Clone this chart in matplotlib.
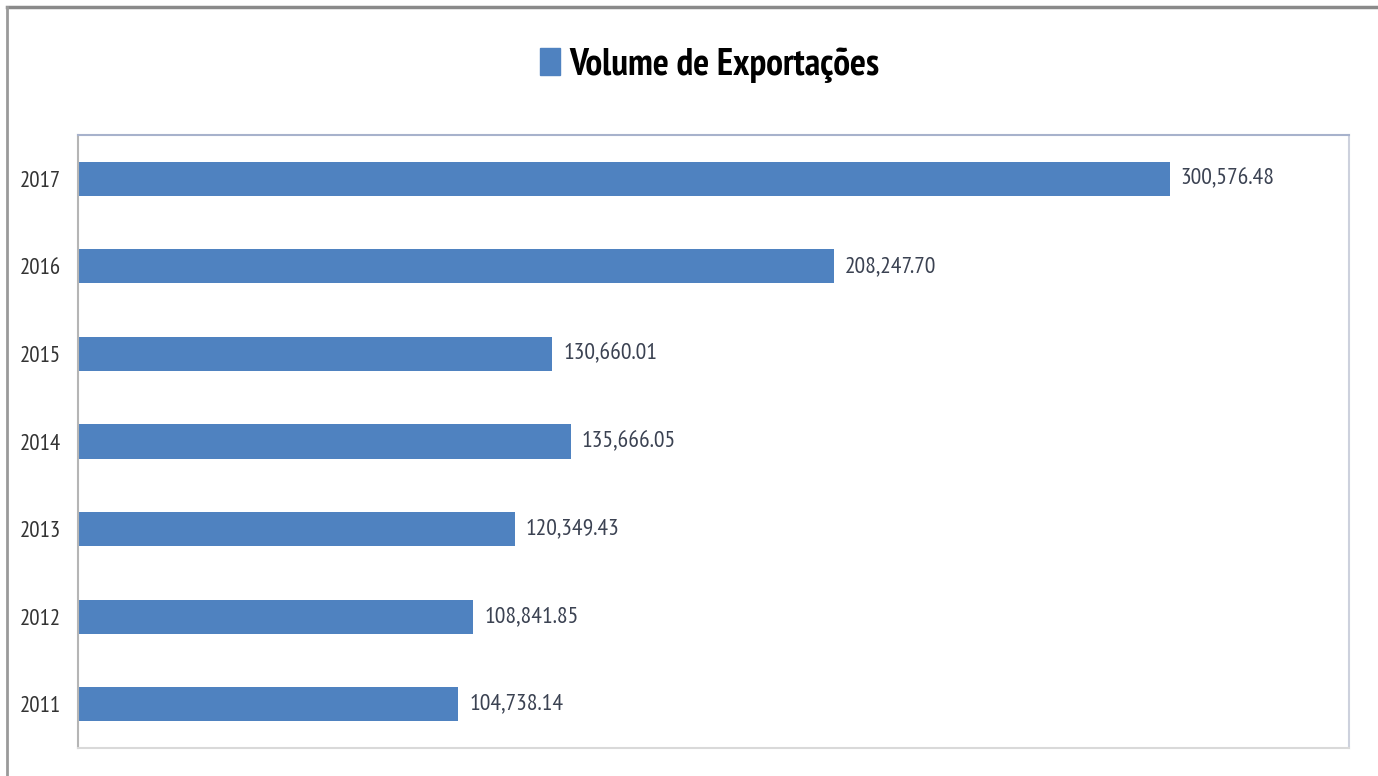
import matplotlib
matplotlib.use("Agg")
import matplotlib.pyplot as plt
from matplotlib.patches import Patch
from matplotlib.lines import Line2D

plt.rcParams['font.family'] = ['PT Sans Narrow', 'DejaVu Sans']

years = ['2011', '2012', '2013', '2014', '2015', '2016', '2017']
volume = [104738.14, 108841.85, 120349.43, 135666.05, 130660.01, 208247.70, 300576.48]
series_name = 'Volume de Exportações'

bar_color = '#4f82c0'

fig = plt.figure(figsize=(13.78, 7.76), dpi=100)
ax = fig.add_axes([78 / 1378, 1 - 748 / 776, (1349 - 78) / 1378, (748 - 135) / 776])

ax.barh(range(len(years)), volume, height=0.39, color=bar_color)
ax.set_xlim(0, 350000)
ax.set_ylim(-0.5, len(years) - 0.5)
ax.set_yticks(range(len(years)))
ax.set_yticklabels(years, fontsize=16.5, color='#333333')
ax.set_xticks([])
ax.tick_params(axis='y', length=0, pad=12)

for i, v in enumerate(volume):
    ax.text(v + 3000, i, '{:,.2f}'.format(v), va='center', ha='left',
            fontsize=17, color='#3b4252')

ax.spines['top'].set_color('#a7b2cc')
ax.spines['left'].set_color('#b5b5b5')
ax.spines['right'].set_color('#cdd1dd')
ax.spines['bottom'].set_color('#d9d9d9')
for s in ax.spines.values():
    s.set_linewidth(1.5)

# legend used as title
fig.legend(handles=[Patch(color=bar_color, label=series_name)],
           loc='center', bbox_to_anchor=(0.515, 1 - 65 / 776), frameon=False,
           prop={'size': 27, 'weight': 'bold'}, handlelength=0.55, handleheight=0.75,
           handletextpad=0.25)

# outer frame (top and left visible)
fig.add_artist(Line2D([7 / 1378, 1], [1 - 7 / 776, 1 - 7 / 776], color='#8a8a8a', lw=2.5,
                      transform=fig.transFigure))
fig.add_artist(Line2D([7 / 1378, 7 / 1378], [0, 1 - 7 / 776], color='#9a9a9a', lw=2,
                      transform=fig.transFigure))

fig.savefig('out.png', dpi=100)
